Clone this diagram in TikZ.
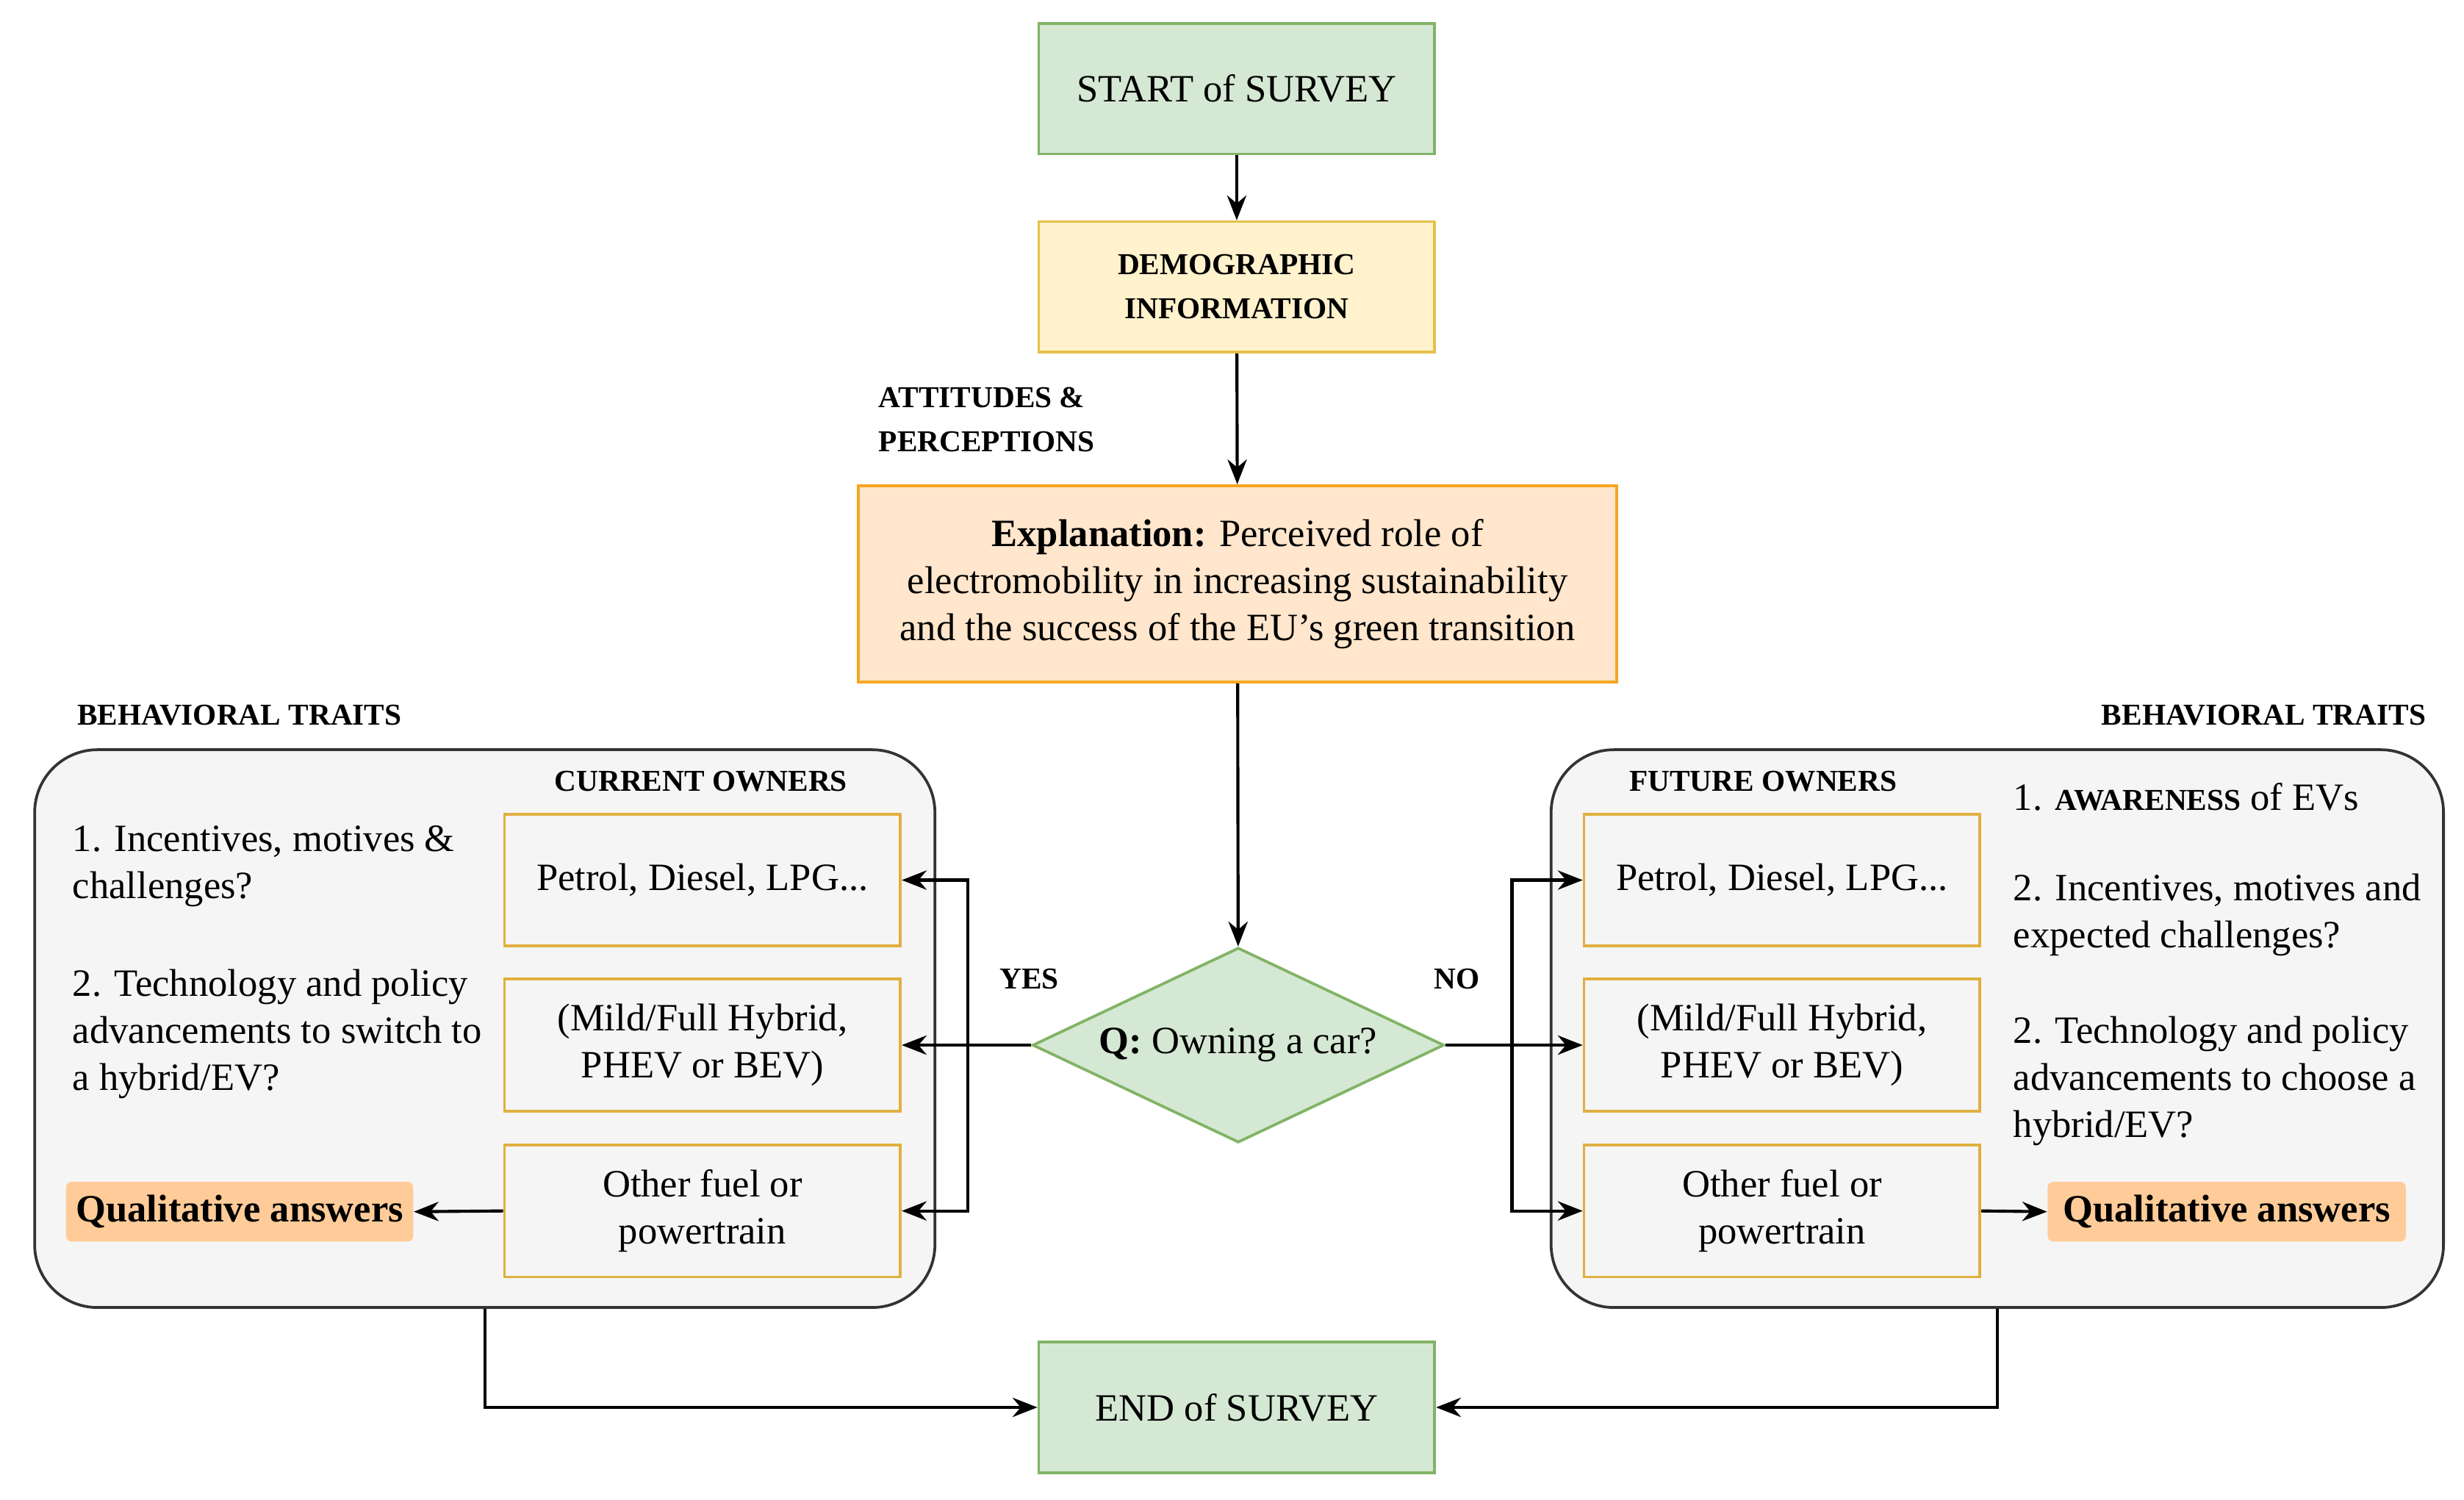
\documentclass[tikz,border=0pt]{standalone}
\usepackage{fontspec}
\setmainfont{Liberation Serif}
\usetikzlibrary{shapes.geometric,arrows.meta}
\definecolor{gfill}{HTML}{D5E8D4}\definecolor{gline}{HTML}{82B366}
\definecolor{yfill}{HTML}{FFF2CC}\definecolor{yline}{HTML}{E6C04A}
\definecolor{ofill}{HTML}{FFE6CC}\definecolor{oline}{HTML}{F5A623}
\definecolor{qfill}{HTML}{FFCC99}\definecolor{bfill}{HTML}{F5F5F5}
\definecolor{iline}{HTML}{E0B040}
\begin{document}
\begin{tikzpicture}[x=0.02cm,y=-0.02cm,
  every node/.style={font=\fontsize{14}{17}\selectfont},
  lbl/.style={font=\fontsize{11}{16}\selectfont\bfseries,align=left},
  gbox/.style={draw=gline,fill=gfill,line width=1pt,minimum width=5.04cm,minimum height=1.66cm},
  ibox/.style={draw=iline,fill=bfill,line width=1pt,minimum width=5.04cm,minimum height=1.68cm,align=center},
  big/.style={draw=black!80,fill=bfill,line width=1pt,rounded corners=0.8cm,minimum height=7.1cm},
  qbox/.style={fill=qfill,rounded corners=2pt,minimum height=0.76cm,font=\fontsize{14}{17}\selectfont\bfseries},
  arr/.style={-{Stealth[length=9pt,width=7pt]},line width=1.1pt}]
\useasboundingbox (0,0) rectangle (1568,954);
\node[gbox] (start) at (787,56.5) {START of SURVEY};
\node[draw=yline,fill=yfill,line width=1pt,minimum width=5.04cm,minimum height=1.66cm,lbl,align=center] (demo) at (787,182.5) {DEMOGRAPHIC\\INFORMATION};
\node[lbl,anchor=west] (att) at (553,267) {ATTITUDES \&\\PERCEPTIONS};
\node[draw=oline,fill=ofill,line width=1pt,minimum width=9.66cm,minimum height=2.5cm,align=center] (expl) at (787.5,371.5) {\textbf{Explanation:} Perceived role of\\electromobility in increasing sustainability\\and the success of the EU's green transition};
\node[diamond,draw=gline,fill=gfill,line width=1pt,aspect=2.11,inner sep=0pt,minimum width=5.24cm,minimum height=2.48cm] (q) at (788,665) {\textbf{Q:} Owning a car?};
\node[lbl] (yes) at (655,623) {YES};
\node[lbl] (no) at (927,623) {NO};
% left
\node[big,minimum width=11.46cm] (bigL) at (308.5,654.5) {};
\node[lbl,anchor=west] (btL) at (43,455) {BEHAVIORAL TRAITS};
\node[lbl] (cur) at (446,497) {CURRENT OWNERS};
\node[ibox] (topL) at (447,560) {Petrol, Diesel, LPG...};
\node[ibox] (midL) at (447,665) {(Mild/Full Hybrid,\\PHEV or BEV)};
\node[ibox] (othL) at (447,770.5) {Other fuel or\\powertrain};
\node[anchor=west,align=left] (l1) at (40,551) {1. Incentives, motives \&\\challenges?};
\node[anchor=west,align=left] (l2) at (40,658) {2. Technology and policy\\advancements to switch to\\a hybrid/EV?};
\node[qbox,minimum width=4.42cm] (qualL) at (152.5,771) {Qualitative answers};
% right
\node[big,minimum width=11.36cm] (bigR) at (1271,654.5) {};
\node[lbl,anchor=east] (btR) at (1550,455) {BEHAVIORAL TRAITS};
\node[lbl] (fut) at (1122,497) {FUTURE OWNERS};
\node[ibox] (topR) at (1134,560) {Petrol, Diesel, LPG...};
\node[ibox] (midR) at (1134,665) {(Mild/Full Hybrid,\\PHEV or BEV)};
\node[ibox] (othR) at (1134,770.5) {Other fuel or\\powertrain};
\node[anchor=west,align=left] (r0) at (1275,507) {1. {\fontsize{11}{14}\selectfont\bfseries AWARENESS} of EVs};
\node[anchor=west,align=left] (r1) at (1275,582) {2. Incentives, motives and\\expected challenges?};
\node[anchor=west,align=left] (r2) at (1275,688) {2. Technology and policy\\advancements to choose a\\hybrid/EV?};
\node[qbox,minimum width=4.56cm] (qualR) at (1417,771) {Qualitative answers};
\node[gbox] (end) at (787,895.5) {END of SURVEY};
% arrows
\draw[arr] (start) -- (demo);
\draw[arr] (demo) -- (expl);
\draw[arr] (expl) -- (q);
\draw[arr] (q.west) -- (midL.east);
\draw[arr] (q.east) -- (midR.west);
\draw[arr,{Stealth[length=9pt,width=7pt]}-{Stealth[length=9pt,width=7pt]}] (topL.east) -- ++(42,0) |- (othL.east);
\draw[arr,{Stealth[length=9pt,width=7pt]}-{Stealth[length=9pt,width=7pt]}] (topR.west) -- ++(-45,0) |- (othR.west);
\draw[arr] (othL.west) -- (qualL.east);
\draw[arr] (othR.east) -- (qualR.west);
\draw[arr] (bigL.south) |- (end.west);
\draw[arr] (bigR.south) |- (end.east);
\end{tikzpicture}
\end{document}
